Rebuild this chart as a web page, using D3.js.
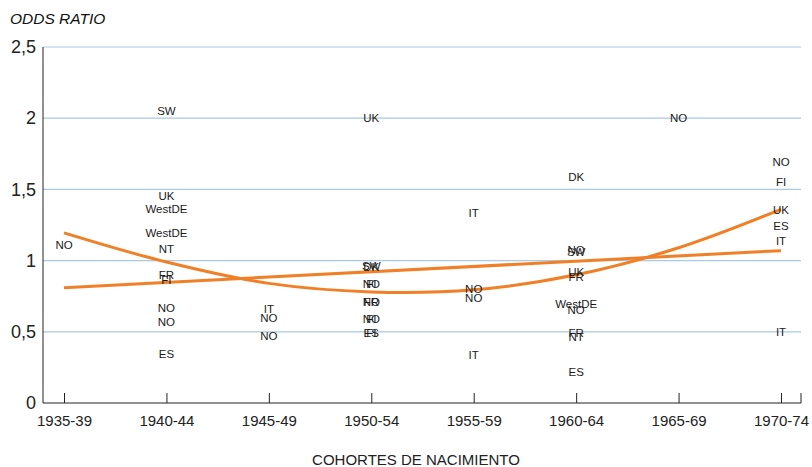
<!DOCTYPE html>
<html>
<head>
<meta charset="utf-8">
<script src="https://cdn.jsdelivr.net/npm/d3@7"></script>
<style>
  html, body { margin: 0; padding: 0; background: #fff; }
  svg { display: block; font-family: "Liberation Sans", Arial, Helvetica, sans-serif; }
</style>
</head>
<body>
<svg id="chart" width="812" height="467"></svg>
<script>
// ---- data ----
const cohorts = ["1935-39", "1940-44", "1945-49", "1950-54", "1955-59", "1960-64", "1965-69", "1970-74"];
const yTicks = [0, 0.5, 1, 1.5, 2, 2.5];
const yTickLabels = ["0", "0,5", "1", "1,5", "2", "2,5"];

const pointCohort = [
  "1935-39",
  "1940-44", "1940-44", "1940-44", "1940-44", "1940-44", "1940-44", "1940-44", "1940-44", "1940-44", "1940-44",
  "1945-49", "1945-49", "1945-49",
  "1950-54", "1950-54", "1950-54", "1950-54", "1950-54", "1950-54", "1950-54", "1950-54", "1950-54", "1950-54", "1950-54",
  "1955-59", "1955-59", "1955-59", "1955-59",
  "1960-64", "1960-64", "1960-64", "1960-64", "1960-64", "1960-64", "1960-64", "1960-64", "1960-64", "1960-64",
  "1965-69",
  "1970-74", "1970-74", "1970-74", "1970-74", "1970-74", "1970-74"
];
const pointCountry = [
  "NO",
  "SW", "UK", "WestDE", "WestDE", "NT", "FR", "FI", "NO", "NO", "ES",
  "IT", "NO", "NO",
  "UK", "SW", "DK", "NO", "FI", "NO", "FR", "NO", "FI", "ES", "FI",
  "IT", "NO", "NO", "IT",
  "DK", "NO", "SW", "UK", "FR", "WestDE", "NO", "FR", "NT", "ES",
  "NO",
  "NO", "FI", "UK", "ES", "IT", "IT"
];
const pointValue = [
  1.11,
  2.055, 1.458, 1.366, 1.195, 1.085, 0.901, 0.866, 0.669, 0.572, 0.343,
  0.662, 0.596, 0.472,
  2.0, 0.962, 0.955, 0.836, 0.836, 0.713, 0.713, 0.592, 0.592, 0.495, 0.49,
  1.336, 0.803, 0.737, 0.338,
  1.589, 1.077, 1.061, 0.920, 0.885, 0.697, 0.655, 0.495, 0.467, 0.221,
  2.0,
  1.692, 1.554, 1.359, 1.246, 1.141, 0.502
];

// trend lines
const linearTrend = [0.81, 1.07];                       // at first and last cohort
const linearTrendCohorts = ["1935-39", "1970-74"];
const quadTrend = [1.195, 0.99, 0.84, 0.78, 0.795, 0.90, 1.09, 1.36]; // at each cohort

// ---- layout ----
const svg = d3.select("#chart");
const plotLeft = 43, plotRight = 801, plotTop = 47, plotBottom = 403;

const x = d3.scalePoint().domain(cohorts).range([64, 781]);
const y = d3.scaleLinear().domain([0, 2.5]).range([plotBottom, plotTop]);

// gridlines
svg.append("g").selectAll("line")
  .data(yTicks.filter(d => d > 0))
  .join("line")
  .attr("x1", plotLeft).attr("x2", plotRight)
  .attr("y1", d => y(d)).attr("y2", d => y(d))
  .attr("stroke", "#a9c9e6").attr("stroke-width", 1.2);

// y axis
const yAxis = d3.axisLeft(y).tickValues(yTicks)
  .tickFormat((d, i) => yTickLabels[i]).tickSize(0).tickPadding(7);
const gy = svg.append("g").attr("transform", `translate(${plotLeft},0)`).call(yAxis);
gy.select(".domain").attr("stroke", "#222").attr("d", `M0,${plotTop}V${plotBottom}`);
gy.selectAll("text").attr("font-size", 18).attr("fill", "#222")
  .attr("font-family", "Liberation Sans, Arial, sans-serif");

// x axis
const xAxis = d3.axisBottom(x).tickSize(-10).tickPadding(12);
const gx = svg.append("g").attr("transform", `translate(0,${plotBottom})`).call(xAxis);
gx.select(".domain").attr("stroke", "#222").attr("d", `M${plotLeft},0H${plotRight}`);
gx.selectAll(".tick line").attr("stroke", "#222");
gx.selectAll("text").attr("font-size", 15).attr("fill", "#222")
  .attr("font-family", "Liberation Sans, Arial, sans-serif");
// end tick
gx.append("line").attr("x1", plotRight).attr("x2", plotRight).attr("y1", 0).attr("y2", -10)
  .attr("stroke", "#222");

// trend lines
const lineGen = d3.line().x(d => x(d[0])).y(d => y(d[1]));
svg.append("path")
  .datum(linearTrendCohorts.map((c, i) => [c, linearTrend[i]]))
  .attr("d", lineGen)
  .attr("fill", "none").attr("stroke", "#f07f26").attr("stroke-width", 3);

svg.append("path")
  .datum(cohorts.map((c, i) => [c, quadTrend[i]]))
  .attr("d", lineGen.curve(d3.curveCatmullRom.alpha(0.5)))
  .attr("fill", "none").attr("stroke", "#f07f26").attr("stroke-width", 3);

// country labels
svg.append("g").selectAll("text")
  .data(pointCountry.map((c, i) => ({ c, cohort: pointCohort[i], v: pointValue[i] })))
  .join("text")
  .attr("x", d => x(d.cohort))
  .attr("y", d => y(d.v))
  .attr("dy", "0.36em")
  .attr("text-anchor", "middle")
  .attr("font-size", 11.5)
  .attr("fill", "#1a1a1a")
  .text(d => d.c);

// titles
svg.append("text").attr("x", 10).attr("y", 24)
  .attr("font-size", 15.5).attr("font-style", "italic").attr("fill", "#111")
  .text("ODDS RATIO");

svg.append("text").attr("x", 416).attr("y", 465)
  .attr("text-anchor", "middle").attr("font-size", 15).attr("fill", "#222")
  .text("COHORTES DE NACIMIENTO");
</script>
</body>
</html>
